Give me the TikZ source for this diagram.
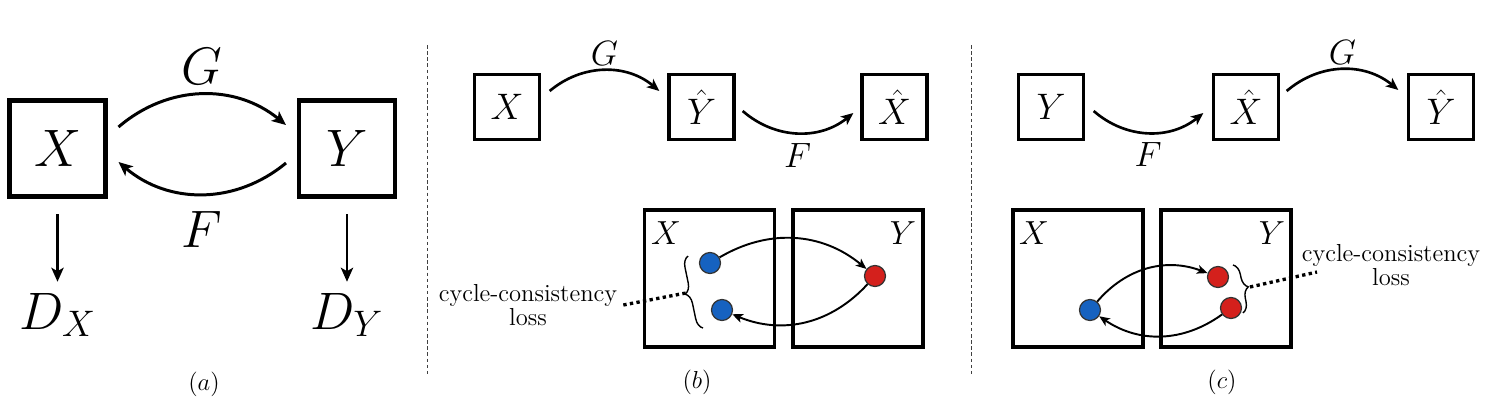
\RequirePackage{fix-cm}
\documentclass[tikz,border=0pt]{standalone}
\usepackage{amsmath}
\usepackage{xcolor}
\usetikzlibrary{arrows.meta,positioning,decorations.pathreplacing}
\definecolor{dotblue}{RGB}{22,98,192}
\definecolor{dotred}{RGB}{212,32,28}

\begin{document}
\begin{tikzpicture}[
      x=0.02cm, y=-0.02cm,
      bigbox/.style={rectangle, draw, line width=2.3pt, minimum size=1.92cm, font=\fontsize{30}{36}\selectfont},
      smallbox/.style={rectangle, draw, line width=1.9pt, minimum size=1.3cm, font=\fontsize{21}{25}\selectfont},
      setbox/.style={rectangle, draw, line width=2pt, minimum width=2.6cm, minimum height=2.75cm},
      bigtxt/.style={font=\fontsize{30}{36}\selectfont},
      lbl/.style={inner sep=0pt, font=\fontsize{20}{24}\selectfont},
      setlbl/.style={font=\fontsize{19}{23}\selectfont},
      dotnode/.style={circle, draw=black!80, line width=0.7pt, minimum size=0.42cm, inner sep=0pt},
      losstxt/.style={align=center, font=\fontsize{14}{13.7}\selectfont},
      subcap/.style={font=\fontsize{14}{16}\selectfont},
      bigarrow/.style={-{Stealth[length=8pt, width=7pt, inset=2pt]}, line width=1.7pt},
      arrow/.style={-{Stealth[length=7pt, width=6pt, inset=1.8pt]}, line width=1.5pt},
      thinarrow/.style={-{Stealth[length=6pt, width=5pt, inset=1.5pt]}, line width=1.1pt},
      divider/.style={black!75, line width=0.45pt, dash pattern=on 2pt off 1.5pt},
      lossline/.style={line width=1.9pt, dash pattern=on 1.9pt off 1.9pt},
      bracestyle/.style={decorate, decoration={brace, amplitude=6pt}, line width=0.8pt}
    ]
    \useasboundingbox (0,0) rectangle (1488,403);

    % (a) the two mappings
    \node[bigbox] (ax) at (57.5,148.5) {$X$};
    \node[bigbox] (ay) at (347,148.5) {$Y$};
    \node[bigtxt, anchor=base] (adx) at (57.5,329) {$D_X$};
    \node[bigtxt, anchor=base] (ady) at (347,329) {$D_Y$};

    \draw[bigarrow] ([shift={(11,-21.5)}]ax.east) to[bend left=40]
      node[lbl, bigtxt, above=5pt] {$G$} ([shift={(-11,-23.5)}]ay.west);
    \draw[bigarrow] ([shift={(-11,14.5)}]ay.west) to[bend left=40]
      node[lbl, bigtxt, below=9pt] {$F$} ([shift={(11,13.5)}]ax.east);
    \draw[bigarrow, shorten <=0.31cm, shorten >=0.1cm] (ax) -- (adx);
    \draw[bigarrow, shorten <=0.31cm, shorten >=0.1cm] (ay) -- (ady);

    \node[subcap] (capa) at (204,384) {$(a)$};

    % dividers
    \draw[divider] (427,45) -- (427,375);
    \draw[divider] (971,45) -- (971,375);

    % (b) forward cycle
    \node[smallbox] (bx) at (507,107) {$X$};
    \node[smallbox] (byh) at (701.5,107) {$\hat{Y}$};
    \node[smallbox] (bxh) at (894.5,107) {$\hat{X}$};
    \draw[arrow] ([shift={(8.5,-16)}]bx.east) to[bend left=40]
      node[lbl, above=2pt] {$G$} ([shift={(-8,-16)}]byh.west);
    \draw[arrow] ([shift={(7,4)}]byh.east) to[bend right=40]
      node[lbl, below=5pt] {$F$} ([shift={(-7,6)}]bxh.west);

    \node[setbox] (bsx) at (709.5,278.5) {};
    \node[setbox] (bsy) at (858,278.5) {};
    \node[setlbl] (bsxl) at (666,233) {$X$};
    \node[setlbl] (bsyl) at (903,233) {$Y$};
    \node[dotnode, fill=dotblue] (bb1) at (710,263) {};
    \node[dotnode, fill=dotblue] (bb2) at (722,310) {};
    \node[dotnode, fill=dotred] (br1) at (875,276) {};
    \draw[thinarrow] (bb1) to[bend left=35] (br1);
    \draw[thinarrow] (br1) to[bend left=35] (bb2);
    \draw[bracestyle] (703,328) -- (688,256);
    \coordinate (tipb) at (686,293);
    \node[losstxt] (lossb) at (528,305) {cycle-consistency\\loss};
    \draw[lossline] (lossb.east) -- (tipb);

    \node[subcap] (capb) at (697,382) {$(b)$};

    % (c) backward cycle
    \node[smallbox] (cy) at (1051,107) {$Y$};
    \node[smallbox] (cxh) at (1246,107) {$\hat{X}$};
    \node[smallbox] (cyh) at (1441,107) {$\hat{Y}$};
    \draw[arrow] ([shift={(8.5,4)}]cy.east) to[bend right=40]
      node[lbl, below=5pt] {$F$} ([shift={(-8.5,6)}]cxh.west);
    \draw[arrow] ([shift={(6.5,-16)}]cxh.east) to[bend left=40]
      node[lbl, above=2pt] {$G$} ([shift={(-8.5,-17)}]cyh.west);

    \node[setbox] (csx) at (1078,278.5) {};
    \node[setbox] (csy) at (1226,278.5) {};
    \node[setlbl] (csxl) at (1034,233) {$X$};
    \node[setlbl] (csyl) at (1272,233) {$Y$};
    \node[dotnode, fill=dotblue] (cb1) at (1090,310) {};
    \node[dotnode, fill=dotred] (cr1) at (1218,277) {};
    \node[dotnode, fill=dotred] (cr2) at (1231,308) {};
    \draw[thinarrow] (cb1) to[bend left=35] (cr1);
    \draw[thinarrow] (cr2) to[bend left=35] (cb1);
    \draw[bracestyle] (1233,265) -- (1243,313);
    \coordinate (tipc) at (1250,287);
    \coordinate (endc) at (1317,272);
    \node[losstxt] (lossc) at (1391,265) {cycle-consistency\\loss};
    \draw[lossline] (tipc) -- (endc);

    \node[subcap] (capc) at (1222,382) {$(c)$};
    \end{tikzpicture}
\end{document}
